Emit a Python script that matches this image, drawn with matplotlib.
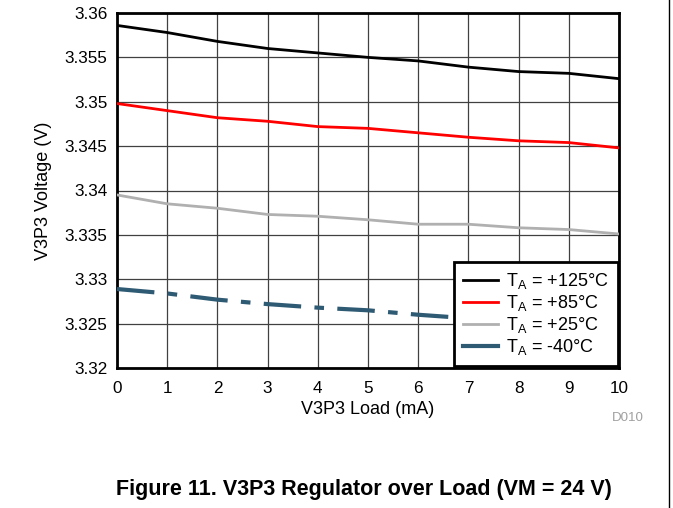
#!/usr/bin/env python3

import matplotlib
matplotlib.use('Agg')
import matplotlib.pyplot as plt
from matplotlib.lines import Line2D

plt.rcParams['font.family'] = ['Liberation Sans', 'DejaVu Sans']
plt.rcParams['mathtext.fontset'] = 'custom'
plt.rcParams['mathtext.rm'] = 'Liberation Sans'
plt.rcParams['mathtext.it'] = 'Liberation Sans'

load_ma = [0, 1, 2, 3, 4, 5, 6, 7, 8, 9, 10]
v_125 = [3.3586, 3.3578, 3.3568, 3.3560, 3.3555, 3.3550, 3.3546, 3.3539, 3.3534, 3.3532, 3.3526]
v_85 = [3.3498, 3.3490, 3.3482, 3.3478, 3.3472, 3.3470, 3.3465, 3.3460, 3.3456, 3.3454, 3.3448]
v_25 = [3.3395, 3.3385, 3.3380, 3.3373, 3.3371, 3.3367, 3.3362, 3.3362, 3.3358, 3.3356, 3.3351]
v_m40 = [3.3289, 3.3284, 3.3277, 3.3272, 3.3268, 3.3265, 3.3260, 3.3256, 3.3253, 3.3250, 3.3247]

labels = ['T$_\\mathrm{A}$ = +125°C', 'T$_\\mathrm{A}$ = +85°C',
          'T$_\\mathrm{A}$ = +25°C', 'T$_\\mathrm{A}$ = -40°C']
y_ticks = [3.32, 3.325, 3.33, 3.335, 3.34, 3.345, 3.35, 3.355, 3.36]
y_tick_labels = ['3.32', '3.325', '3.33', '3.335', '3.34', '3.345', '3.35', '3.355', '3.36']

fig = plt.figure(figsize=(6.73, 5.08), dpi=100)
ax = fig.add_axes([117 / 673, 1 - 368 / 508, 502 / 673, 355 / 508])

ax.plot(load_ma, v_125, color='black', lw=2, label=labels[0], zorder=3)
ax.plot(load_ma, v_85, color='#ff0000', lw=2, label=labels[1], zorder=3)
ax.plot(load_ma, v_25, color='#b0b0b0', lw=2, label=labels[2], zorder=3)
ax.plot(load_ma, v_m40, color='#2e5a73', lw=3, dashes=(9, 3.2, 2.3, 3.2), label=labels[3], zorder=3)

ax.set_xlim(0, 10)
ax.set_ylim(3.32, 3.36)
ax.set_xticks(load_ma)
ax.set_yticks(y_ticks)
ax.set_yticklabels(y_tick_labels)
ax.tick_params(length=0, labelsize=12.3)
ax.tick_params(axis='x', pad=9.5)
ax.tick_params(axis='y', pad=7)
ax.grid(True, color='#404040', lw=0.9)
ax.set_axisbelow(True)
for s in ax.spines.values():
    s.set_linewidth(2)

ax.set_xlabel('V3P3 Load (mA)', fontsize=13, labelpad=3.5)
ax.set_ylabel('V3P3 Voltage (V)', fontsize=13, labelpad=9)

handles = [Line2D([], [], color='black', lw=2),
           Line2D([], [], color='#ff0000', lw=2),
           Line2D([], [], color='#b0b0b0', lw=2),
           Line2D([], [], color='#2e5a73', lw=3)]
leg = ax.legend(handles, labels, loc='lower right', bbox_to_anchor=(0.998, 0.006),
                borderaxespad=0, fontsize=13, fancybox=False, framealpha=1,
                edgecolor='black', handlelength=1.95, labelspacing=0.1,
                borderpad=0.5, handletextpad=0.45)
leg.get_frame().set_linewidth(2)

fig.text(628 / 673, 1 - 418 / 508, 'D010', color='#a0a0a0', fontsize=9.6, ha='center', va='center')
fig.text(364 / 673, 1 - 490 / 508, 'Figure 11. V3P3 Regulator over Load (VM = 24 V)',
         fontsize=15.5, fontweight='bold', ha='center', va='center')
fig.add_artist(Line2D([669 / 673, 669 / 673], [0, 1], color='black', lw=1, transform=fig.transFigure))

fig.savefig('out.png', dpi=100)
